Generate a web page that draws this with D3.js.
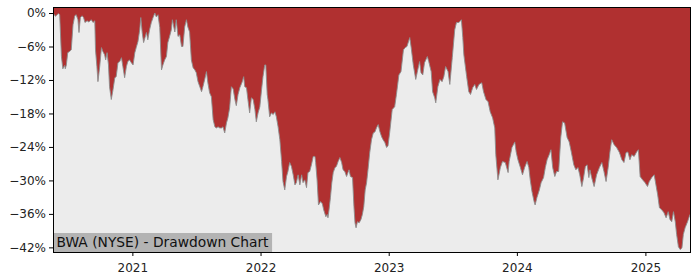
<!DOCTYPE html>
<html>
<head>
<meta charset="utf-8">
<script src="https://cdn.jsdelivr.net/npm/d3@7"></script>
<style>
  body { margin: 0; background: #fff; }
  #chart { width: 700px; height: 280px; }
  .tick text { font-family: "DejaVu Sans", sans-serif; font-size: 12px; fill: #222; }
  .tick line { stroke: #000; }
</style>
</head>
<body>
<div id="chart"></div>
<script>
// drawdown of BWA (percent below running peak)
var dates = [
  "2020-05-20","2020-05-27","2020-06-04","2020-06-08","2020-06-13","2020-06-17","2020-06-22","2020-06-24","2020-06-27","2020-07-01",
  "2020-07-06","2020-07-11","2020-07-16","2020-07-21","2020-07-25","2020-07-30","2020-08-02","2020-08-06","2020-08-11","2020-08-15",
  "2020-08-19","2020-08-25","2020-08-30","2020-09-06","2020-09-11","2020-09-16","2020-09-18","2020-09-22","2020-09-25","2020-09-30",
  "2020-10-05","2020-10-09","2020-10-14","2020-10-17","2020-10-21","2020-10-25","2020-10-28","2020-11-02","2020-11-07","2020-11-12",
  "2020-11-16","2020-11-21","2020-11-26","2020-12-01","2020-12-05","2020-12-10","2020-12-15","2020-12-19","2020-12-24","2020-12-29",
  "2021-01-03","2021-01-08","2021-01-12","2021-01-17","2021-01-22","2021-01-25","2021-01-29","2021-02-02","2021-02-06","2021-02-10",
  "2021-02-14","2021-02-19","2021-02-24","2021-03-01","2021-03-06","2021-03-10","2021-03-15","2021-03-20","2021-03-25","2021-03-29",
  "2021-04-03","2021-04-08","2021-04-12","2021-04-17","2021-04-22","2021-04-25","2021-04-29","2021-05-02","2021-05-06","2021-05-11",
  "2021-05-16","2021-05-21","2021-05-25","2021-05-30","2021-06-04","2021-06-08","2021-06-13","2021-06-18","2021-06-23","2021-06-28",
  "2021-07-02","2021-07-07","2021-07-12","2021-07-17","2021-07-21","2021-07-26","2021-07-31","2021-08-04","2021-08-09","2021-08-14",
  "2021-08-19","2021-08-24","2021-08-28","2021-09-02","2021-09-07","2021-09-12","2021-09-16","2021-09-21","2021-09-26","2021-09-30",
  "2021-10-05","2021-10-10","2021-10-15","2021-10-20","2021-10-24","2021-10-29","2021-11-03","2021-11-10","2021-11-14","2021-11-17",
  "2021-11-22","2021-11-26","2021-12-01","2021-12-06","2021-12-11","2021-12-16","2021-12-20","2021-12-25","2021-12-30","2022-01-04",
  "2022-01-08","2022-01-13","2022-01-16","2022-01-20","2022-01-22","2022-01-27","2022-02-01","2022-02-06","2022-02-11","2022-02-15",
  "2022-02-20","2022-02-25","2022-03-02","2022-03-06","2022-03-11","2022-03-16","2022-03-20","2022-03-25","2022-03-30","2022-04-04",
  "2022-04-09","2022-04-13","2022-04-18","2022-04-23","2022-04-28","2022-05-02","2022-05-07","2022-05-12","2022-05-16","2022-05-21",
  "2022-05-26","2022-05-31","2022-06-05","2022-06-07","2022-06-11","2022-06-15","2022-06-21","2022-06-26","2022-06-30","2022-07-06",
  "2022-07-10","2022-07-12","2022-07-15","2022-07-19","2022-07-23","2022-07-27","2022-08-01","2022-08-05","2022-08-10","2022-08-15",
  "2022-08-20","2022-08-24","2022-08-29","2022-09-03","2022-09-07","2022-09-10","2022-09-14","2022-09-20","2022-09-24","2022-09-27",
  "2022-09-30","2022-10-04","2022-10-09","2022-10-14","2022-10-18","2022-10-22","2022-10-26","2022-10-30","2022-11-03","2022-11-08",
  "2022-11-13","2022-11-18","2022-11-23","2022-11-27","2022-12-02","2022-12-07","2022-12-12","2022-12-16","2022-12-21","2022-12-26",
  "2022-12-30","2023-01-04","2023-01-11","2023-01-18","2023-01-23","2023-01-30","2023-02-05","2023-02-12","2023-02-17","2023-02-22",
  "2023-03-02","2023-03-06","2023-03-12","2023-03-19","2023-03-23","2023-03-30","2023-04-03","2023-04-08","2023-04-13","2023-04-21",
  "2023-04-25","2023-05-02","2023-05-06","2023-05-12","2023-05-15","2023-05-21","2023-05-27","2023-06-02","2023-06-07","2023-06-12",
  "2023-06-19","2023-06-24","2023-07-01","2023-07-08","2023-07-13","2023-07-20","2023-07-27","2023-07-31","2023-08-03","2023-08-11",
  "2023-08-17","2023-08-22","2023-08-28","2023-09-03","2023-09-08","2023-09-15","2023-09-23","2023-09-28","2023-10-05","2023-10-11",
  "2023-10-17","2023-10-24","2023-10-30","2023-11-02","2023-11-08","2023-11-15","2023-11-21","2023-11-29","2023-12-07","2023-12-10",
  "2023-12-18","2023-12-26","2023-12-30","2024-01-04","2024-01-11","2024-01-17","2024-01-23","2024-01-30","2024-02-04","2024-02-08",
  "2024-02-13","2024-02-19","2024-02-22","2024-02-27","2024-03-05","2024-03-10","2024-03-17","2024-03-22","2024-03-27","2024-04-02",
  "2024-04-07","2024-04-12","2024-04-18","2024-04-23","2024-04-29","2024-05-05","2024-05-10","2024-05-16","2024-05-23","2024-05-29",
  "2024-06-04","2024-06-11","2024-06-17","2024-06-23","2024-06-28","2024-07-04","2024-07-09","2024-07-14","2024-07-19","2024-07-24",
  "2024-07-27","2024-08-01","2024-08-08","2024-08-15","2024-08-23","2024-08-30","2024-09-05","2024-09-11","2024-09-17","2024-09-22",
  "2024-09-27","2024-10-04","2024-10-11","2024-10-19","2024-10-26","2024-11-01","2024-11-07","2024-11-12","2024-11-18","2024-11-23",
  "2024-11-30","2024-12-07","2024-12-12","2024-12-17","2024-12-24","2024-12-31","2025-01-07","2025-01-12","2025-01-19","2025-01-26",
  "2025-01-31","2025-02-05","2025-02-10","2025-02-17","2025-02-23","2025-03-01","2025-03-07","2025-03-12","2025-03-17","2025-03-22",
  "2025-03-27","2025-03-31","2025-04-05","2025-04-10","2025-04-15","2025-04-19","2025-04-24","2025-05-01","2025-05-08"
];
var drawdown = [
  0,-0.6,-0.1,-0.3,-7.8,-10.0,-9.4,-10.0,-9.3,-7.1,
  -6.9,-6.6,-2.1,-0.5,-0.3,-1.2,-3.5,-0.8,-0.5,-0.8,
  -1.7,-1.4,-1.6,-1.2,-1.7,-1.4,-6.6,-9.6,-12.3,-9.6,
  -6.2,-6.9,-7.5,-8.4,-7.1,-9.3,-13.2,-15.5,-13.7,-11.6,
  -11.4,-8.9,-8.7,-8.0,-9.6,-11.6,-9.6,-8.7,-8.4,-8.9,
  -9.3,-7.1,-6.2,-5.1,-3.0,-0.8,-3.5,-5.3,-4.4,-3.5,
  -4.8,-3.0,-1.7,-0.8,0,-0.7,-0.3,-2.6,-10.2,-9.3,
  -8.4,-7.8,-5.3,-4.2,-3.0,-1.2,-2.5,-3.4,-1.2,-4.2,
  -3.9,-6.0,-6.0,-2.5,-1.2,-2.5,-3.4,-8.4,-9.8,-10.2,
  -10.7,-12.3,-13.2,-14.1,-13.2,-11.9,-10.5,-12.5,-14.3,-15.0,
  -19.1,-20.4,-20.6,-20.4,-20.6,-20.6,-20.4,-21.5,-19.7,-18.8,
  -17.0,-13.2,-13.6,-15.5,-16.6,-14.6,-13.4,-12.3,-11.4,-13.2,
  -13.4,-15.5,-17.9,-15.2,-15.5,-17.3,-19.5,-17.9,-16.8,-13.7,
  -11.4,-9.3,-9.3,-14.6,-15.5,-18.6,-17.9,-18.2,-17.7,-18.6,
  -20.4,-22.7,-26.6,-30.2,-31.7,-29.3,-28.4,-26.8,-27.5,-29.0,
  -30.8,-30.4,-29.0,-30.8,-29.0,-30.4,-29.9,-31.3,-28.6,-28.4,
  -27.2,-25.7,-25.7,-26.8,-29.9,-34.4,-33.8,-34.2,-35.3,-36.5,
  -36.1,-36.7,-35.3,-33.1,-30.4,-28.6,-27.7,-27.5,-26.6,-25.9,
  -26.8,-28.1,-28.4,-29.3,-28.6,-28.1,-29.3,-29.5,-34.7,-37.6,
  -38.5,-37.4,-37.6,-37.0,-36.1,-34.7,-31.7,-30.4,-28.1,-25.0,
  -22.7,-21.5,-21.3,-20.6,-20.0,-21.3,-22.2,-22.7,-23.2,-24.1,
  -23.8,-21.3,-17.3,-16.8,-14.6,-11.1,-10.5,-6.6,-6.2,-6.0,
  -4.4,-6.2,-9.3,-11.9,-10.7,-8.7,-10.7,-11.1,-8.9,-7.8,
  -8.7,-10.5,-14.1,-15.2,-16.1,-13.2,-11.9,-12.3,-11.4,-9.6,
  -10.5,-12.8,-8.0,-3.0,-1.7,-1.7,-1.2,-4.4,-7.5,-11.4,
  -14.1,-14.6,-13.4,-12.8,-13.7,-12.8,-12.5,-14.1,-15.5,-15.9,
  -17.7,-18.8,-20.6,-25.4,-29.9,-27.7,-26.6,-26.8,-28.6,-26.6,
  -24.1,-23.1,-24.9,-26.3,-27.7,-29.0,-27.7,-26.6,-27.7,-29.9,
  -32.0,-33.8,-34.4,-33.1,-31.7,-30.4,-29.5,-27.7,-26.3,-25.4,
  -24.5,-27.7,-29.3,-28.4,-28.4,-22.3,-19.5,-19.7,-22.3,-23.1,
  -24.9,-27.2,-28.1,-27.7,-29.0,-31.1,-29.5,-27.5,-27.2,-29.5,
  -28.1,-29.5,-31.1,-29.0,-27.7,-26.8,-28.4,-30.2,-27.7,-24.9,
  -22.7,-23.6,-24.1,-25.0,-26.3,-26.8,-25.0,-24.9,-26.3,-25.4,
  -25.7,-24.9,-24.5,-29.3,-29.9,-30.4,-31.1,-30.2,-29.5,-29.0,
  -30.8,-32.6,-34.9,-35.3,-35.8,-36.7,-35.6,-37.0,-37.4,-35.6,
  -37.4,-39.7,-41.9,-42.4,-42.1,-39.7,-38.5,-37.4,-36.1
];
var yTicks = [0, -6, -12, -18, -24, -30, -36, -42];
var yRange = [-42.83, 1.08];
var title = "BWA (NYSE) - Drawdown Chart";

var width = 700, height = 280;
var margin = {top: 7, right: 10, bottom: 28, left: 53};
var plotWidth = width - margin.left - margin.right;
var plotHeight = height - margin.top - margin.bottom;

var parse = d3.timeParse("%Y-%m-%d");
var dados = dates.map(function(d, i){ return {date: parse(d), dd: drawdown[i]}; });

var svg = d3.select("#chart").append("svg")
    .attr("width", width).attr("height", height);
var plotArea = svg.append("g")
    .attr("transform", "translate(" + margin.left + "," + margin.top + ")");

var xs = d3.scaleTime()
    .domain(d3.extent(dados, function(d){ return d.date; }))
    .range([0, plotWidth]);
var ys = d3.scaleLinear().domain(yRange).range([plotHeight, 0]);

// background of the axes
plotArea.append("rect")
    .attr("width", plotWidth).attr("height", plotHeight)
    .attr("fill", "#ececec");

// red area hangs from the top of the plot down to the drawdown
var area = d3.area()
    .x(function(d){ return xs(d.date); })
    .y0(0)
    .y1(function(d){ return ys(d.dd); });
plotArea.append("path")
    .datum(dados)
    .attr("d", area)
    .attr("fill", "#b03030");

var line = d3.line()
    .x(function(d){ return xs(d.date); })
    .y(function(d){ return ys(d.dd); });
plotArea.append("path")
    .datum(dados)
    .attr("d", line)
    .attr("fill", "none")
    .attr("stroke", "#8c8c8c")
    .attr("stroke-width", 0.9);

// title label in the lower left corner
var label = plotArea.append("g");
var labelText = label.append("text")
    .attr("x", 3.5).attr("y", plotHeight - 5.5)
    .style("font-family", "DejaVu Sans, sans-serif")
    .style("font-size", "13.8px")
    .attr("fill", "#111")
    .text(title);
var bb = labelText.node().getBBox();
label.insert("rect", "text")
    .attr("x", 0).attr("y", plotHeight - 19)
    .attr("width", bb.x + bb.width + 3)
    .attr("height", 19)
    .attr("fill", "#b3b3b3");

// axes
var yAxis = plotArea.append("g")
    .call(d3.axisLeft(ys).tickValues(yTicks).tickSize(4).tickPadding(3)
        .tickFormat(function(d){ return (d < 0 ? "\u2212" : "") + Math.abs(d) + "%"; }));
yAxis.select(".domain").remove();

var xAxis = plotArea.append("g")
    .attr("transform", "translate(0," + plotHeight + ")")
    .call(d3.axisBottom(xs).ticks(d3.timeYear.every(1)).tickSize(4).tickPadding(7)
        .tickFormat(d3.timeFormat("%Y")));
xAxis.select(".domain").remove();

// spines
plotArea.append("rect")
    .attr("x", 0.5).attr("y", 0.5)
    .attr("width", plotWidth).attr("height", plotHeight)
    .attr("fill", "none")
    .attr("stroke", "#000")
    .attr("stroke-width", 1);
</script>
</body>
</html>
